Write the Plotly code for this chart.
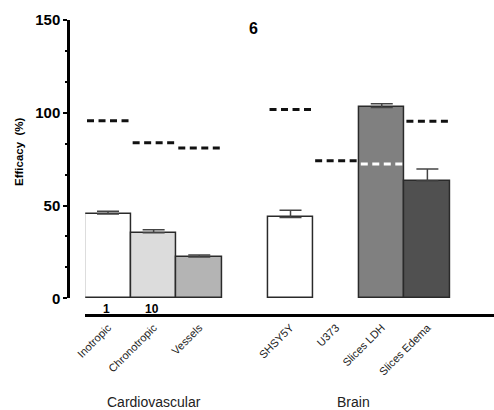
import plotly.graph_objects as go

# ---- data ----
groups = ["Cardiovascular", "Brain"]
group_members = [
    ["Inotropic", "Chronotropic", "Vessels"],
    ["SHSY5Y", "U373", "Slices LDH", "Slices Edema"],
]
categories = ["Inotropic", "Chronotropic", "Vessels", "SHSY5Y", "U373", "Slices LDH", "Slices Edema"]
efficacy = [45.4, 35.3, 22.3, 43.6, None, 102.9, 63.2]
error_up = [1.5, 1.7, 1.0, 3.8, 0, 1.9, 6.5]
reference = [95.7, 83.8, 81.0, 101.8, 74.1, 72.4, 95.4]
bar_colors = ["#ffffff", "#dcdcdc", "#b4b4b4", "#ffffff", "#ffffff", "#808080", "#505050"]
ref_colors = ["#111111", "#111111", "#111111", "#111111", "#111111", "#ffffff", "#111111"]
conc_labels = ["1", "10"]
y_ticks = [0, 50, 100, 150]
title_text = "6"

# category positions: one empty slot between groups
positions = []
p = 0
for gi, members in enumerate(group_members):
    for _ in members:
        positions.append(p)
        p += 1
    p += 1
group_centers = [1.0, 5.37]

W, H = 494, 410
FONT = "Liberation Sans, Arial, sans-serif"

fig = go.Figure()

fig.add_trace(go.Bar(
    x=positions, y=efficacy, width=1,
    marker=dict(color=bar_colors, line=dict(color="#2a2a2a", width=1.5)),
    error_y=dict(type="data", symmetric=False, array=error_up,
                 arrayminus=[0] * len(error_up), color="#444444",
                 thickness=1.5, width=11),
    showlegend=False, hoverinfo="skip",
))

for pos, ref, col in zip(positions, reference, ref_colors):
    fig.add_trace(go.Scatter(
        x=[pos - 0.46, pos + 0.46], y=[ref, ref], mode="lines",
        line=dict(color=col, width=3, dash="7px,4.5px"),
        showlegend=False, hoverinfo="skip",
    ))

minor_vals = [50 / 3 * k for k in range(1, 9) if k % 3 != 0]

fig.update_layout(
    width=W, height=H,
    margin=dict(l=0, r=0, t=0, b=0),
    paper_bgcolor="white", plot_bgcolor="white",
    font=dict(family=FONT, color="black"),
    bargap=0,
    xaxis=dict(
        domain=[85.2 / W, 1], range=[-0.5, 8.46],
        anchor="free", position=1 - 315 / H,
        showline=True, linewidth=3, linecolor="black",
        tickmode="array", tickvals=positions, ticktext=categories,
        tickangle=-45, tickfont=dict(family=FONT, size=11, color="#222"),
        ticks="", showgrid=False, zeroline=False, automargin=False,
    ),
    yaxis=dict(
        domain=[1 - 298.3 / H, 1 - 20 / H], range=[0, 150],
        anchor="free", position=68.3 / W,
        showline=True, linewidth=3, linecolor="black",
        tickmode="array", tickvals=y_ticks,
        ticks="outside", ticklen=4, tickwidth=2, tickcolor="black",
        tickfont=dict(family=FONT, size=15, color="black", weight="bold"),
        minor=dict(tickmode="array", tickvals=minor_vals, ticks="outside",
                   ticklen=2, tickwidth=2, tickcolor="black"),
        showgrid=False, zeroline=False, automargin=False,
    ),
)

annotations = [
    dict(text=title_text, xref="paper", yref="paper", x=254 / W, y=1 - 29 / H,
         showarrow=False, xanchor="center", yanchor="middle",
         font=dict(family=FONT, size=16, color="black", weight="bold")),
    dict(text="Efficacy  (%)", xref="paper", yref="paper", x=19 / W, y=1 - 152 / H,
         textangle=-90, showarrow=False, xanchor="center", yanchor="middle",
         font=dict(family=FONT, size=11.5, color="black", weight="bold")),
]
for lab, pos in zip(conc_labels, positions):
    annotations.append(dict(text=lab, xref="x", yref="paper", x=pos - 0.03, y=1 - 309 / H,
                            showarrow=False, xanchor="center", yanchor="middle",
                            font=dict(family=FONT, size=12, color="black", weight="bold")))
for g, c in zip(groups, group_centers):
    annotations.append(dict(text=g, xref="x", yref="paper", x=c, y=1 - 402 / H,
                            showarrow=False, xanchor="center", yanchor="middle",
                            font=dict(family=FONT, size=14, color="#222")))
fig.update_layout(annotations=annotations)

fig.write_html("out.html", config={"displayModeBar": False},
               post_script="document.body.style.margin='0';")
